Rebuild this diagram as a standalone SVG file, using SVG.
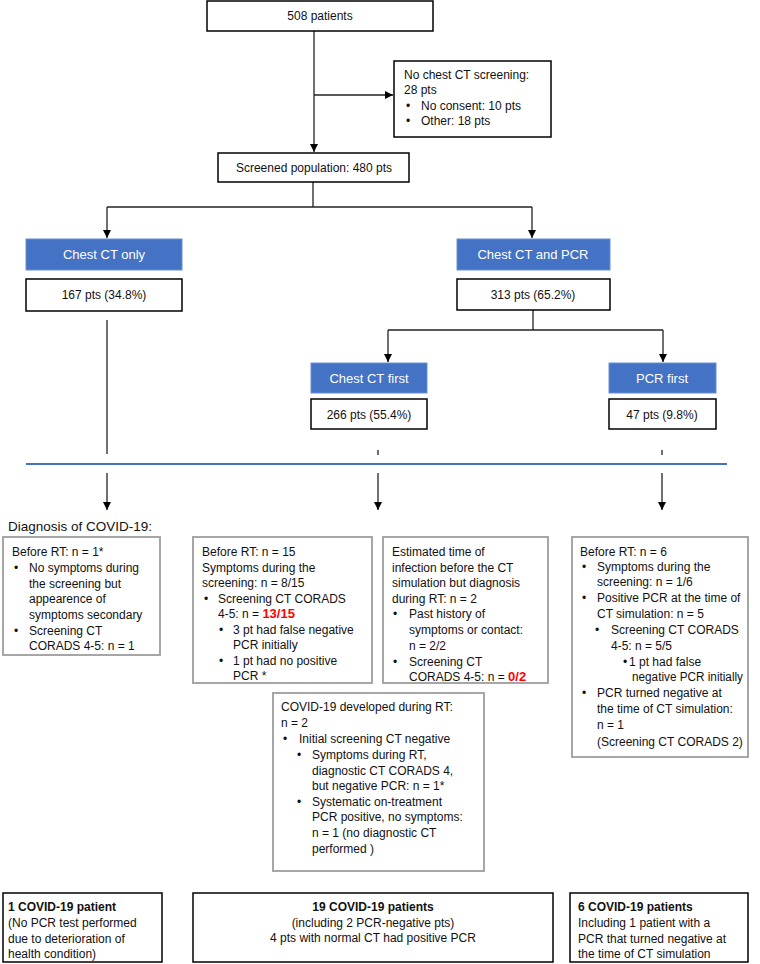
<svg xmlns="http://www.w3.org/2000/svg" width="760" height="964" viewBox="0 0 760 964">
<style>
.box{fill:#fff;stroke:#000;stroke-width:1.5}
.gbox{fill:#fff;stroke:#a6a6a6;stroke-width:2}
.blue{fill:#4472C4;stroke:#6a8fd2;stroke-width:1}
.t{font-family:"Liberation Sans",Arial,sans-serif;font-size:12px;fill:#111}
.w{fill:#fff;font-size:13px}
.c{text-anchor:middle}
.b{font-weight:bold}
.red{fill:#ff0000;font-weight:bold}
.ln{stroke:#222;stroke-width:1.3;fill:none}
.bl{stroke:#4472C4;stroke-width:2;fill:none}
</style>
<defs>
<marker id="ah" markerWidth="8" markerHeight="8" refX="8" refY="4" orient="auto" markerUnits="userSpaceOnUse">
<path d="M0,0 L8,4 L0,8 z" fill="#000"/>
</marker>
</defs>

<g id="connectors">
<line class="ln" x1="314" y1="31" x2="314" y2="152" marker-end="url(#ah)"/>
<line class="ln" x1="314" y1="95" x2="393" y2="95" marker-end="url(#ah)"/>
<line class="ln" x1="313" y1="182" x2="313" y2="207"/>
<line class="ln" x1="107" y1="207" x2="532" y2="207"/>
<line class="ln" x1="107" y1="207" x2="107" y2="238" marker-end="url(#ah)"/>
<line class="ln" x1="532" y1="207" x2="532" y2="238" marker-end="url(#ah)"/>
<line class="ln" x1="533" y1="310" x2="533" y2="330"/>
<line class="ln" x1="388" y1="330" x2="663" y2="330"/>
<line class="ln" x1="388" y1="330" x2="388" y2="362" marker-end="url(#ah)"/>
<line class="ln" x1="663" y1="330" x2="663" y2="362" marker-end="url(#ah)"/>
<line class="ln" x1="107" y1="320" x2="107" y2="454"/>
<line class="ln" x1="378" y1="450" x2="378" y2="455"/>
<line class="ln" x1="662" y1="450" x2="662" y2="455"/>
<line class="bl" x1="26" y1="464" x2="727" y2="464"/>
<line class="ln" x1="107" y1="473" x2="107" y2="510" marker-end="url(#ah)"/>
<line class="ln" x1="378" y1="473" x2="378" y2="510" marker-end="url(#ah)"/>
<line class="ln" x1="662" y1="473" x2="662" y2="510" marker-end="url(#ah)"/>
</g>

<g id="n508">
<rect class="box" x="207" y="1" width="226" height="30"/>
<text class="t c" x="320" y="20">508 patients</text>
</g>

<g id="noct">
<rect class="box" x="394" y="61" width="157" height="76"/>
<text class="t" x="404" y="79">No chest CT screening:</text>
<text class="t" x="404" y="94">28 pts</text>
<text class="t" x="406" y="110">•</text>
<text class="t" x="421" y="110">No consent: 10 pts</text>
<text class="t" x="406" y="125">•</text>
<text class="t" x="421" y="125">Other: 18 pts</text>
</g>

<g id="screened">
<rect class="box" x="218" y="153" width="191" height="29"/>
<text class="t c" x="314" y="172">Screened population: 480 pts</text>
</g>

<g id="ctonly">
<rect class="blue" x="26" y="239" width="156" height="31"/>
<text class="t w c" x="104" y="259">Chest CT only</text>
</g>
<g id="n167">
<rect class="box" x="26" y="279" width="156" height="32"/>
<text class="t c" x="104" y="299">167 pts (34.8%)</text>
</g>

<g id="ctpcr">
<rect class="blue" x="457" y="239" width="153" height="31"/>
<text class="t w c" x="533" y="259">Chest CT and PCR</text>
</g>
<g id="n313">
<rect class="box" x="457" y="279" width="153" height="31"/>
<text class="t c" x="533" y="299">313 pts (65.2%)</text>
</g>

<g id="ctfirst">
<rect class="blue" x="311" y="363" width="116" height="30"/>
<text class="t w c" x="369" y="383">Chest CT first</text>
</g>
<g id="n266">
<rect class="box" x="311" y="399" width="116" height="30"/>
<text class="t c" x="369" y="419">266 pts (55.4%)</text>
</g>

<g id="pcrfirst">
<rect class="blue" x="609" y="363" width="107" height="30"/>
<text class="t w c" x="662" y="383">PCR first</text>
</g>
<g id="n47">
<rect class="box" x="609" y="399" width="107" height="30"/>
<text class="t c" x="662" y="419">47 pts (9.8%)</text>
</g>

<g id="diaglabel">
<text class="t" x="8" y="531" style="font-size:13.5px">Diagnosis of COVID-19:</text>
</g>

<g id="leftbox">
<rect class="gbox" x="3" y="537" width="157" height="118"/>
<text class="t" x="12" y="556">Before RT: n = 1*</text>
<text class="t" x="14" y="572">•</text>
<text class="t" x="29" y="572">No symptoms during</text>
<text class="t" x="29" y="588">the screening but</text>
<text class="t" x="29" y="603">appearence of</text>
<text class="t" x="29" y="619">symptoms secondary</text>
<text class="t" x="14" y="635">•</text>
<text class="t" x="29" y="635">Screening CT</text>
<text class="t" x="29" y="650">CORADS 4-5: n = 1</text>
</g>

<g id="midbox1">
<rect class="gbox" x="193" y="537" width="179" height="146"/>
<text class="t" x="202" y="556">Before RT: n = 15</text>
<text class="t" x="202" y="572">Symptoms during the</text>
<text class="t" x="202" y="587">screening: n = 8/15</text>
<text class="t" x="204" y="603">•</text>
<text class="t" x="218" y="603">Screening CT CORADS</text>
<text class="t" x="218" y="618">4-5: n = <tspan class="red" style="font-size:13px">13/15</tspan></text>
<text class="t" x="219" y="634">•</text>
<text class="t" x="233" y="634">3 pt had false negative</text>
<text class="t" x="233" y="649">PCR initially</text>
<text class="t" x="219" y="665">•</text>
<text class="t" x="233" y="665">1 pt had no positive</text>
<text class="t" x="233" y="680">PCR *</text>
</g>

<g id="midbox2">
<rect class="gbox" x="383" y="537" width="165" height="146"/>
<text class="t" x="392" y="556">Estimated time of</text>
<text class="t" x="392" y="572">infection before the CT</text>
<text class="t" x="392" y="587">simulation but diagnosis</text>
<text class="t" x="392" y="603">during RT: n = 2</text>
<text class="t" x="393" y="618">•</text>
<text class="t" x="409" y="618">Past history of</text>
<text class="t" x="409" y="634">symptoms or contact:</text>
<text class="t" x="409" y="650">n = 2/2</text>
<text class="t" x="393" y="666">•</text>
<text class="t" x="409" y="666">Screening CT</text>
<text class="t" x="409" y="681">CORADS 4-5: n = <tspan class="red" style="font-size:13px">0/2</tspan></text>
</g>

<g id="duringrt">
<rect class="gbox" x="273" y="693" width="211" height="178"/>
<text class="t" x="281" y="711">COVID-19 developed during RT:</text>
<text class="t" x="281" y="727">n = 2</text>
<text class="t" x="283" y="743">•</text>
<text class="t" x="299" y="743">Initial screening CT negative</text>
<text class="t" x="297" y="759">•</text>
<text class="t" x="312" y="759">Symptoms during RT,</text>
<text class="t" x="312" y="775">diagnostic CT CORADS 4,</text>
<text class="t" x="312" y="790">but negative PCR: n = 1*</text>
<text class="t" x="297" y="806">•</text>
<text class="t" x="312" y="806">Systematic on-treatment</text>
<text class="t" x="312" y="821">PCR positive, no symptoms:</text>
<text class="t" x="312" y="837">n = 1  (no diagnostic CT</text>
<text class="t" x="312" y="853">performed  )</text>
</g>

<g id="rightbox">
<rect class="gbox" x="572" y="537" width="176" height="220"/>
<text class="t" x="580" y="556">Before RT: n = 6</text>
<text class="t" x="582" y="571">•</text>
<text class="t" x="597" y="571">Symptoms during the</text>
<text class="t" x="597" y="586">screening: n = 1/6</text>
<text class="t" x="582" y="602">•</text>
<text class="t" x="597" y="602">Positive PCR at the time of</text>
<text class="t" x="597" y="618">CT simulation: n = 5</text>
<text class="t" x="595" y="634">•</text>
<text class="t" x="611" y="634">Screening CT CORADS</text>
<text class="t" x="611" y="650">4-5: n = 5/5</text>
<text class="t" x="623" y="666">•</text>
<text class="t" x="629" y="666">1 pt had false</text>
<text class="t" x="632" y="681" textLength="111" lengthAdjust="spacingAndGlyphs">negative PCR initially</text>
<text class="t" x="582" y="697">•</text>
<text class="t" x="597" y="697">PCR turned negative at</text>
<text class="t" x="597" y="713">the time of CT simulation:</text>
<text class="t" x="597" y="729">n = 1</text>
<text class="t" x="597" y="746">(Screening CT CORADS 2)</text>
</g>

<g id="res1">
<rect class="box" x="3" y="893" width="159" height="69"/>
<text class="t b" x="8" y="911">1 COVID-19 patient</text>
<text class="t" x="8" y="927">(No PCR test performed</text>
<text class="t" x="8" y="943">due to deterioration of</text>
<text class="t" x="8" y="958">health condition)</text>
</g>

<g id="res19">
<rect class="box" x="193" y="893" width="360" height="69"/>
<text class="t b c" x="373" y="911">19 COVID-19 patients</text>
<text class="t c" x="373" y="927">(including 2 PCR-negative pts)</text>
<text class="t c" x="373" y="942">4 pts with normal CT had positive PCR</text>
</g>

<g id="res6">
<rect class="box" x="570" y="893" width="178" height="69"/>
<text class="t b" x="578" y="911">6 COVID-19 patients</text>
<text class="t" x="578" y="927">Including 1 patient with a</text>
<text class="t" x="578" y="943">PCR that turned negative at</text>
<text class="t" x="578" y="958">the time of CT simulation</text>
</g>
</svg>
